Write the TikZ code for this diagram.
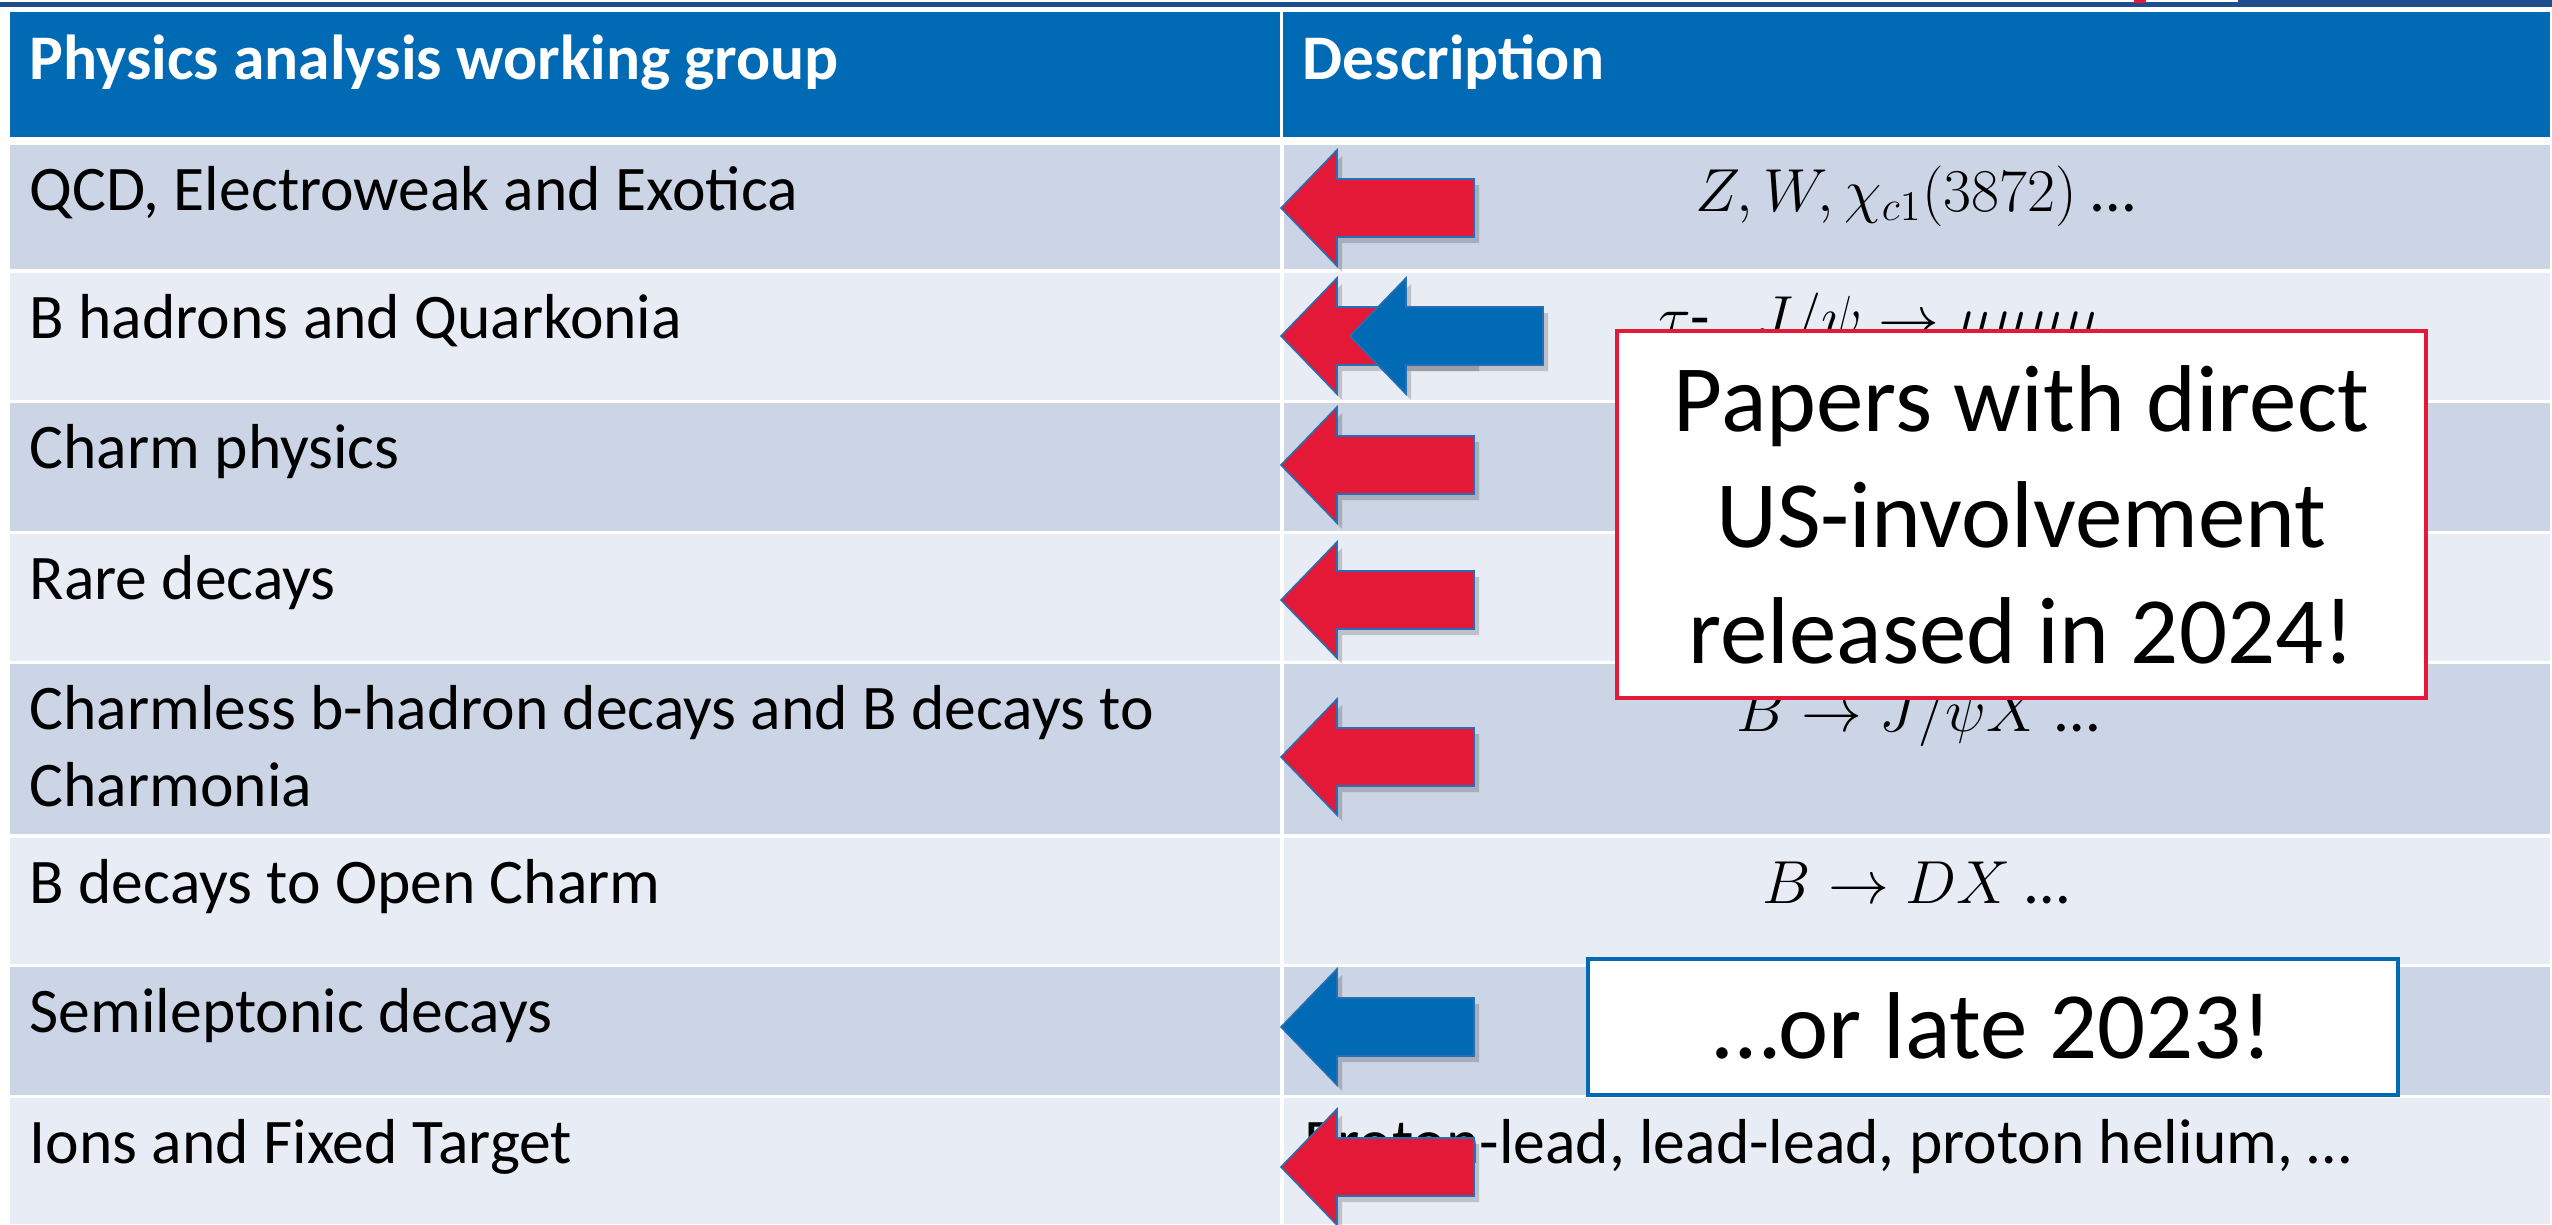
\documentclass[tikz,border=0pt]{standalone}
\usepackage{fontspec}
\setmainfont{Carlito}
\definecolor{hdrblue}{RGB}{0,106,180}
\definecolor{rowdark}{RGB}{203,213,230}
\definecolor{rowlight}{RGB}{232,236,244}
\definecolor{navy}{RGB}{31,78,140}
\definecolor{arrred}{RGB}{227,25,55}
\definecolor{arredge}{RGB}{40,110,180}
\newcommand\bigarrow[3]{%
  \begin{scope}[shift={(#1,#2)}]
    \fill[black,opacity=0.18] (5,6) -- (61,-52) -- (61,-23) -- (198,-23) -- (198,35) -- (61,35) -- (61,64) -- cycle;
    \filldraw[fill=#3,draw=arredge,line width=0.45pt,line join=miter]
      (0,0) -- (56,-58) -- (56,-29) -- (193,-29) -- (193,29) -- (56,29) -- (56,58) -- cycle;
  \end{scope}}
\begin{document}
\begin{tikzpicture}[x=0.01cm,y=-0.01cm,
  lbl/.style={anchor=base west,inner sep=0pt,font=\fontsize{18.07pt}{22pt}\selectfont},
  hdr/.style={anchor=base west,inner sep=0pt,text=white,font=\fontsize{18.07pt}{22pt}\selectfont\bfseries},
  desc/.style={anchor=base,inner sep=0pt,font=\fontsize{18.07pt}{22pt}\selectfont},
  callout/.style={fill=white,line width=1.15pt,inner sep=0pt,align=center,
    font=\fontsize{27pt}{33pt}\selectfont}]
\useasboundingbox (0,0) rectangle (2552,1224);
\fill[white] (0,0) rectangle (2552,1224);
% top slide bar
\fill[navy] (0,1.7) rectangle (2552,6.7);
\fill[navy] (2238,0) rectangle (2552,6.7);
\fill[arrred] (2134,0) rectangle (2146,2.5);
% header
\fill[hdrblue] (10,12) rectangle (1280,137);
\fill[hdrblue] (1283,12) rectangle (2550,137);
% rows
\foreach \ya/\yb/\c in {145/269/rowdark,273/400/rowlight,403/531/rowdark,534/661/rowlight,
  664/834/rowdark,838/964/rowlight,967/1095/rowdark,1098/1224/rowlight}{
  \fill[\c] (10,\ya) rectangle (1280,\yb);
  \fill[\c] (1284,\ya) rectangle (2550,\yb);
}
% header text
\node[hdr] (h1) at (29,79) {Physics analysis working group};
\node[hdr] (h2) at (1302,79) {Description};
% left column
\node[lbl] (r1) at (29,210) {QCD, Electroweak and Exotica};
\node[lbl] (r2) at (29,338) {B hadrons and Quarkonia};
\node[lbl] (r3) at (29,468) {Charm physics};
\node[lbl] (r4) at (29,599) {Rare decays};
\node[lbl] (r5a) at (29,729) {Charmless b-hadron decays and B decays to};
\node[lbl] (r5b) at (29,806) {Charmonia};
\node[lbl] (r6) at (29,903) {B decays to Open Charm};
\node[lbl] (r7) at (29,1032) {Semileptonic decays};
\node[lbl] (r8) at (29,1163) {Ions and Fixed Target};
% description column
\node[desc] (d1) at (1915,211) {$Z,W,\chi_{c1}(3872)$ …};
\node[desc] (d2) at (1908,338) {$\tau$-, \ $J/\psi\rightarrow\mu\mu\mu\mu$ …};
\node[desc] (d5) at (1918,731) {$B\rightarrow J/\psi X$ …};
\node[desc] (d6) at (1916,903) {$B\rightarrow DX$ …};
\node[lbl] (d8) at (1304,1163) {Proton-lead, lead-lead, proton helium, …};
% arrows
\bigarrow{1281}{208}{arrred}
\bigarrow{1281}{336}{arrred}
\bigarrow{1350}{336}{hdrblue}
\bigarrow{1281}{465}{arrred}
\bigarrow{1281}{600}{arrred}
\bigarrow{1281}{757}{arrred}
\bigarrow{1281}{1027}{hdrblue}
\bigarrow{1281}{1167}{arrred}
% callout boxes
\node[callout,draw=arrred,minimum width=8.09cm,minimum height=3.67cm] (boxA) at (2021.5,514.5)
  {Papers with direct\\US-involvement\\released in 2024!};
\node[callout,draw=hdrblue,minimum width=8.10cm,minimum height=1.36cm] (boxB) at (1993,1027) {};
\node[anchor=base,inner sep=0pt,font=\fontsize{27pt}{33pt}\selectfont] (boxBt) at (1993,1058) {…or late 2023!};
\end{tikzpicture}
\end{document}
